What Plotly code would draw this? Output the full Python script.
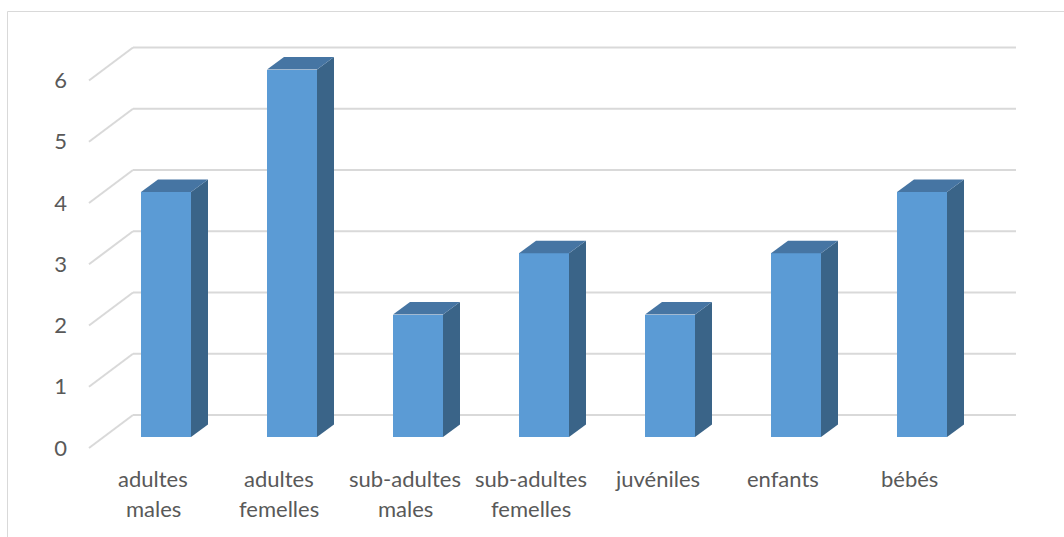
import plotly.graph_objects as go

# Data
categories = ["adultes\nmales", "adultes\nfemelles", "sub-adultes\nmales",
              "sub-adultes\nfemelles", "juvéniles", "enfants", "bébés"]
values = [4, 6, 2, 3, 2, 3, 4]
y_ticks = [0, 1, 2, 3, 4, 5, 6]

# Canvas / projection constants (pixels)
W, H = 1064, 537
ML, MR, MT, MB = 68, 0, 0, 0
PX_X = 126.0          # pixels per category
PX_Y = 61.25          # pixels per value unit
X0_PX = 166.0         # pixel x of first bar centre
Y0_PX = 437.0         # pixel y of value 0 on the bar front plane

def xu(px):
    return px / PX_X

def yu(px):
    return px / PX_Y

BAR_W = xu(50)
DEPTH_DX, DEPTH_DY = xu(17), yu(12.5)     # bar depth
WALL_DX, WALL_DY = xu(44), yu(33)         # side wall depth
FRONT_OFF = yu(11)                        # wall front edge below bar plane
WALL_FRONT_X = xu(89 - X0_PX)
WALL_BACK_X = xu(133 - X0_PX)
WALL_END_X = xu(1016 - X0_PX)

FRONT = "#5B9BD5"
TOP = "#4675A3"
SIDE = "#3A6488"
GRID = "#D9D9D9"
TEXT = "#595959"
FONT = "Lato, 'Open Sans', sans-serif"
FONT_SIZE = 22

xs = list(range(len(categories)))

fig = go.Figure()

# Front faces
fig.add_trace(go.Bar(x=xs, y=values, width=BAR_W, marker_color=FRONT,
                     marker_line_width=0, hoverinfo="skip"))

# Side and top faces derived from the values
for x, v in zip(xs, values):
    r = x + BAR_W / 2
    l = x - BAR_W / 2
    fig.add_trace(go.Scatter(
        x=[r, r + DEPTH_DX, r + DEPTH_DX, r, r],
        y=[0, DEPTH_DY, v + DEPTH_DY, v, 0],
        fill="toself", fillcolor=SIDE, mode="lines",
        line=dict(width=0, color=SIDE), hoverinfo="skip"))
    fig.add_trace(go.Scatter(
        x=[l, r, r + DEPTH_DX, l + DEPTH_DX, l],
        y=[v, v, v + DEPTH_DY, v + DEPTH_DY, v],
        fill="toself", fillcolor=TOP, mode="lines",
        line=dict(width=0, color=TOP), hoverinfo="skip"))

# Gridlines: diagonal on the side wall, then across the back wall
shapes = []
for k in y_ticks:
    yf = k - FRONT_OFF
    yb = yf + WALL_DY
    shapes.append(dict(type="line", layer="below", xref="x", yref="y",
                       x0=WALL_FRONT_X, y0=yf, x1=WALL_BACK_X, y1=yb,
                       line=dict(color=GRID, width=2)))
    shapes.append(dict(type="line", layer="below", xref="x", yref="y",
                       x0=WALL_BACK_X, y0=yb, x1=WALL_END_X, y1=yb,
                       line=dict(color=GRID, width=2)))

# Chart border
pw = W - ML - MR
ph = H - MT - MB
def paper_x(px):
    return (px - ML) / pw
def paper_y(py):
    return 1 - (py - MT) / ph
shapes.append(dict(type="rect", layer="below", xref="paper", yref="paper",
                   x0=paper_x(7.5), y0=paper_y(560), x1=paper_x(1100), y1=paper_y(11.5),
                   line=dict(color=GRID, width=1), fillcolor="rgba(0,0,0,0)"))

# Category labels, one line each
annotations = []
LABEL_SHIFT = xu(-13)
line_y = [yu(Y0_PX - 478), yu(Y0_PX - 508)]
for x, cat in zip(xs, categories):
    for i, part in enumerate(cat.split("\n")):
        annotations.append(dict(x=x + LABEL_SHIFT, y=line_y[i], xref="x", yref="y",
                                text=part, showarrow=False,
                                font=dict(family=FONT, size=FONT_SIZE, color=TEXT),
                                xanchor="center", yanchor="middle"))

fig.update_layout(
    width=W, height=H, autosize=False,
    margin=dict(l=ML, r=MR, t=MT, b=MB, pad=0),
    paper_bgcolor="white", plot_bgcolor="white",
    showlegend=False, bargap=0,
    shapes=shapes, annotations=annotations,
    xaxis=dict(range=[xu(ML - X0_PX), xu(W - MR - X0_PX)], visible=False,
               fixedrange=True),
    yaxis=dict(range=[yu(Y0_PX - (H - MB)), yu(Y0_PX - MT)],
               tickvals=[k - FRONT_OFF for k in y_ticks],
               ticktext=[str(k) for k in y_ticks],
               showgrid=False, zeroline=False, showline=False, ticks="",
               tickfont=dict(family=FONT, size=FONT_SIZE, color=TEXT),
               fixedrange=True),
)

fig.write_html("out.html")
